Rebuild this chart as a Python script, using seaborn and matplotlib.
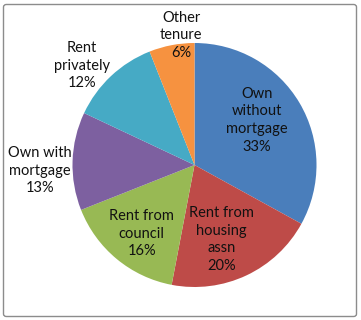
import numpy as np
import matplotlib
matplotlib.use("Agg")
import matplotlib.pyplot as plt
from matplotlib.patches import FancyBboxPatch
import seaborn as sns

categories = ["Own\nwithout\nmortgage", "Rent from\nhousing\nassn", "Rent from\ncouncil",
              "Own with\nmortgage", "Rent\nprivately", "Other\ntenure"]
values = [33, 20, 16, 13, 12, 6]

colors = ["#4A7EBB", "#BE4B48", "#98B954", "#7D60A0", "#46AAC5", "#F69240"]
# label placement style: (radial distance, angle offset in degrees)
label_dist = [0.63, 0.65, 0.71, 1.27, 1.23, 1.07]
label_dang = [5.0, -5.5, 2.0, 4.0, 5.5, -5.0]

sns.set_theme(style="white")
plt.rcParams['font.family'] = ['Lato', 'DejaVu Sans']

W, H = 361, 320
fig = plt.figure(figsize=(W / 100, H / 100), dpi=100)
fig.patch.set_facecolor("white")

cx, cy, R = 194.5, 165, 122
ax = fig.add_axes([(cx - R) / W, (H - cy - R) / H, 2 * R / W, 2 * R / H])
wedges, _ = ax.pie(values, colors=colors, startangle=90, counterclock=False,
                   radius=1, wedgeprops=dict(linewidth=0))
ax.set_xlim(-1, 1)
ax.set_ylim(-1, 1)
ax.set_aspect("equal")
ax.axis("off")

total = sum(values)
for w, cat, v, d, da in zip(wedges, categories, values, label_dist, label_dang):
    ang = np.deg2rad((w.theta1 + w.theta2) / 2 + da)
    x, y = d * np.cos(ang), d * np.sin(ang)
    ax.text(x, y, f"{cat}\n{round(100 * v / total)}%", ha="center", va="center",
            fontsize=10.5, color="#111111", linespacing=1.32, clip_on=False)

border = FancyBboxPatch((3.5 / W, 3.5 / H), (W - 8) / W, (H - 8) / H,
                        boxstyle="round,pad=0,rounding_size=0.008",
                        transform=fig.transFigure, facecolor="none",
                        edgecolor="#8C8C8C", linewidth=1.0)
fig.patches.append(border)

fig.savefig("out.png", dpi=100)
